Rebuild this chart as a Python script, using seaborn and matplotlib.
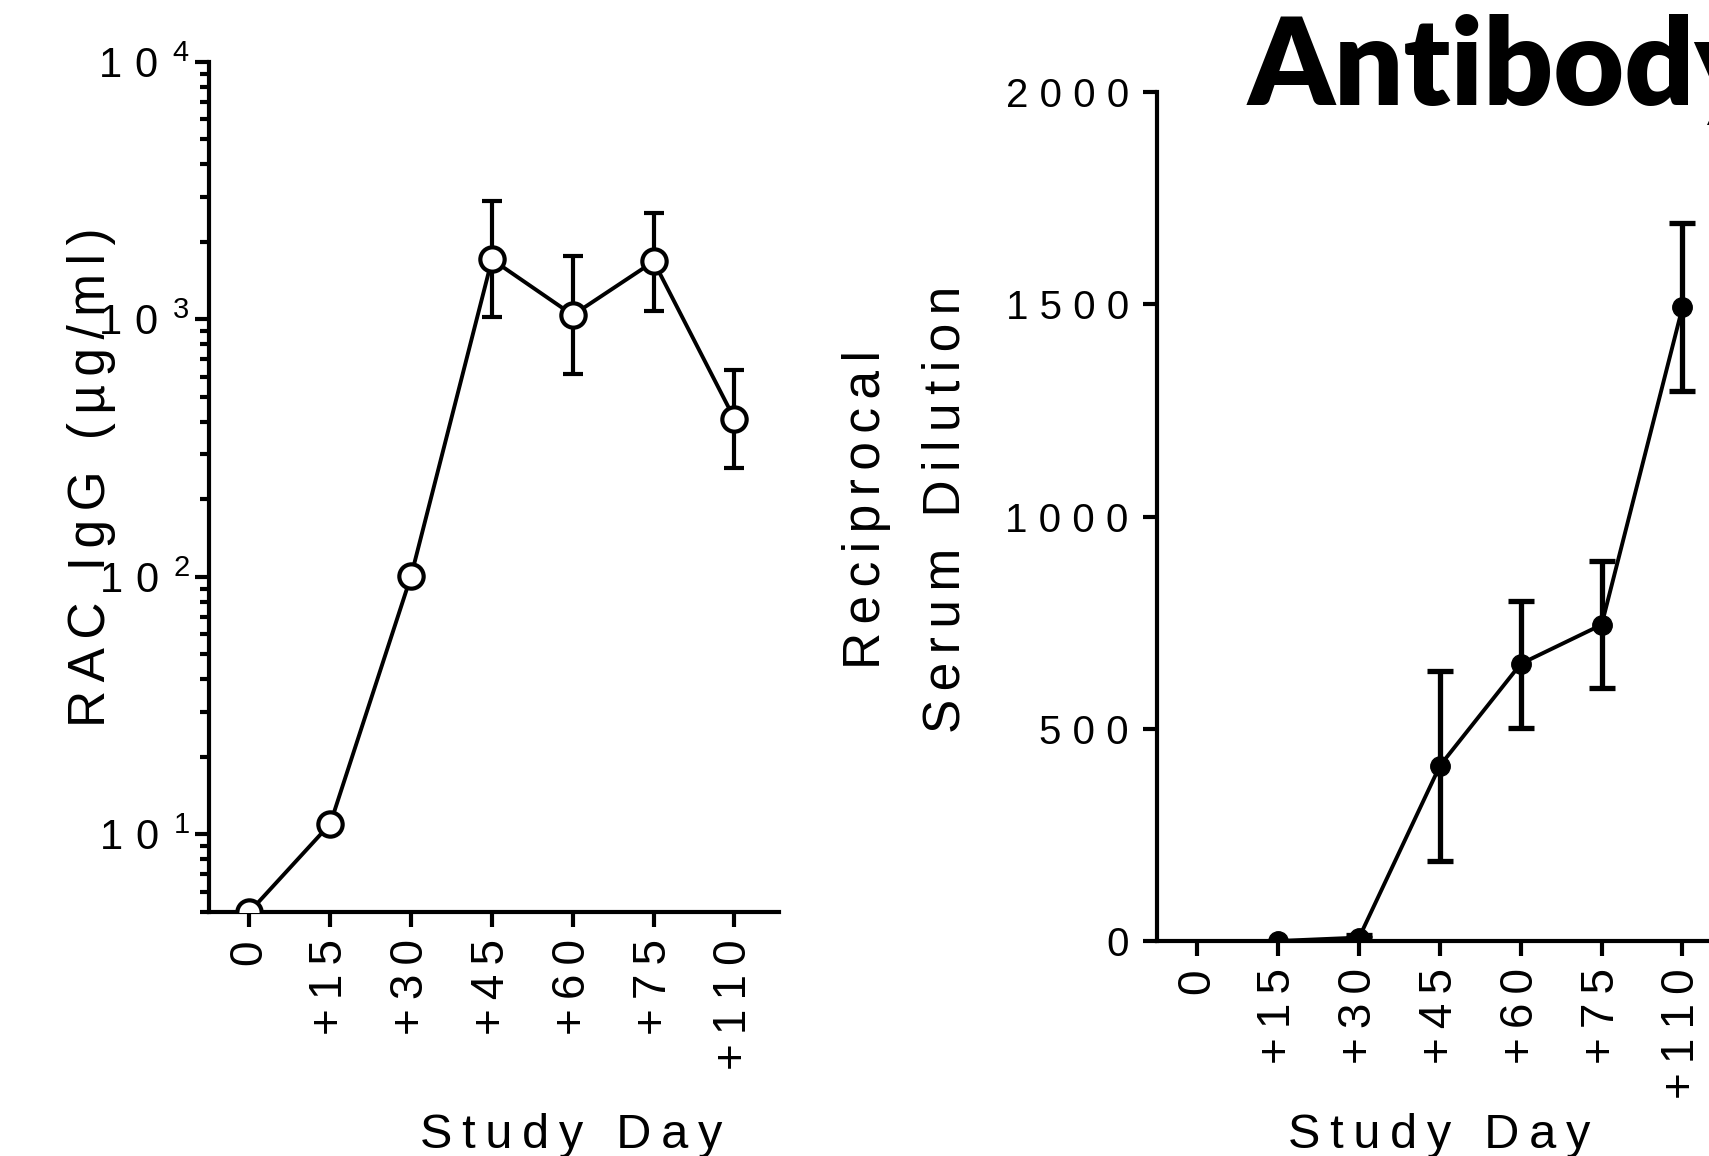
import numpy as np
import pandas as pd
import matplotlib
matplotlib.use("Agg")
import matplotlib.pyplot as plt
import seaborn as sns
from matplotlib.ticker import FixedLocator, LogLocator, NullFormatter

# study days shown on both panels
days = ["0", "+15", "+30", "+45", "+60", "+75", "+110"]

# left panel: RAC IgG (ug/ml), geometric mean with lower / upper bar ends
igg_mean = [5, 11, 101, 1710, 1040, 1680, 411]
igg_low = [5, 11, 101, 1020, 614, 1081, 265]
igg_high = [5, 11, 101, 2890, 1762, 2600, 638]
igg_ticks = [10, 100, 1000, 10000]

# right panel: reciprocal serum dilution (no value on day 0)
titer_mean = [np.nan, 0, 8, 413, 653, 745, 1493]
titer_low = [np.nan, 0, 8, 189, 502, 597, 1295]
titer_high = [np.nan, 0, 14, 637, 800, 894, 1691]
titer_ticks = [0, 500, 1000, 1500, 2000]

THIN = "\u2009"
HAIR2 = "\u200a\u200a"


def spaced(text, gap=THIN):
    """Prism-style letter spacing."""
    return gap.join(text)


def draw_errorbars(ax, mean, low, high, lw, cap):
    mean = np.asarray(mean, float)
    low = np.asarray(low, float)
    high = np.asarray(high, float)
    keep = np.isfinite(mean) & (high > low)
    pos = np.arange(len(mean))[keep]
    _, caps, bars = ax.errorbar(pos, mean[keep],
                                yerr=[mean[keep] - low[keep], high[keep] - mean[keep]],
                                fmt="none", ecolor="black", elinewidth=lw, capsize=cap,
                                capthick=lw, zorder=2)
    for c in caps:
        c.set_solid_capstyle("round")


sns.set_theme(style="ticks")
plt.rcParams["font.family"] = ["Liberation Sans", "DejaVu Sans"]
plt.rcParams["mathtext.fontset"] = "custom"
plt.rcParams["mathtext.rm"] = "Liberation Sans"
for key in ("text.color", "axes.labelcolor", "xtick.color", "ytick.color", "axes.edgecolor"):
    plt.rcParams[key] = "black"

df = pd.DataFrame({"pos": np.arange(len(days)), "day": days,
                   "igg": igg_mean, "titer": titer_mean})

fig = plt.figure(figsize=(17.09, 11.56), dpi=100)
ax1 = fig.add_axes([0.1223, 0.2111, 0.3335, 0.7353])
ax2 = fig.add_axes([0.6770, 0.1860, 0.3335, 0.7344])

# ---- left: RAC IgG on log scale
draw_errorbars(ax1, igg_mean, igg_low, igg_high, lw=3.0, cap=7.5)
sns.lineplot(data=df, x="pos", y="igg", ax=ax1, color="black", linewidth=2.8,
             marker="o", markersize=17.5, markerfacecolor="white",
             markeredgecolor="black", markeredgewidth=3.0, zorder=3)
ax1.set_yscale("log")
ax1.set_ylim(5, 10000)
ax1.yaxis.set_major_locator(FixedLocator(igg_ticks))
ax1.set_yticklabels([r"$\mathregular{1\ 0^{\ \,%d}}$" % int(np.log10(t)) for t in igg_ticks])
ax1.yaxis.set_minor_locator(LogLocator(base=10, subs=np.arange(2, 10)))
ax1.yaxis.set_minor_formatter(NullFormatter())

# ---- right: reciprocal serum dilution
draw_errorbars(ax2, titer_mean, titer_low, titer_high, lw=3.8, cap=9.5)
sns.lineplot(data=df, x="pos", y="titer", ax=ax2, color="black", linewidth=2.8,
             marker="o", markersize=14, markerfacecolor="black",
             markeredgecolor="black", markeredgewidth=1, zorder=3)
ax2.set_ylim(0, 2000)
ax2.set_yticks(titer_ticks)
ax2.set_yticklabels([" ".join(str(t)) for t in titer_ticks])

for ax in (ax1, ax2):
    ax.set_xlim(-0.5, 6.55)
    ax.set_xticks(range(len(days)))
    ax.set_xticklabels([spaced(d) for d in days], rotation=90, va="top", ha="center")
    ax.set_xlabel("")
    ax.set_ylabel("")
    sns.despine(ax=ax)
    for side in ("left", "bottom"):
        ax.spines[side].set_linewidth(3.0)
    ax.tick_params(axis="x", which="major", length=10.8, width=3.0, pad=9, labelsize=33)
    ax.tick_params(axis="y", which="major", length=9.8, width=3.0, labelsize=29)
    ax.tick_params(axis="y", which="minor", length=6.5, width=3.0)
    ax.patch.set_alpha(0)

ax1.tick_params(axis="y", which="major", pad=4, labelsize=30)
ax2.tick_params(axis="y", which="major", pad=10.5)

# axis titles
fig.text(105 / 1709, 0.587, spaced("RAC IgG (µg/ml)", HAIR2), rotation=90,
         rotation_mode="anchor", ha="center", va="baseline", fontsize=37)
fig.text(880 / 1709, 0.559, spaced("Reciprocal", HAIR2), rotation=90,
         rotation_mode="anchor", ha="center", va="baseline", fontsize=37)
fig.text(960 / 1709, 0.559, spaced("Serum Dilution", HAIR2), rotation=90,
         rotation_mode="anchor", ha="center", va="baseline", fontsize=37)
fig.text(0.334, 0.007, spaced("Study Day"), ha="center", va="baseline", fontsize=35)
fig.text(0.842, 0.007, spaced("Study Day"), ha="center", va="baseline", fontsize=35)

fig.text(0.7303, 0.909, "Antibody", family=["Lato", "DejaVu Sans"], fontweight="heavy",
         fontsize=88, ha="left", va="baseline")

fig.savefig("out.png", dpi=100)
